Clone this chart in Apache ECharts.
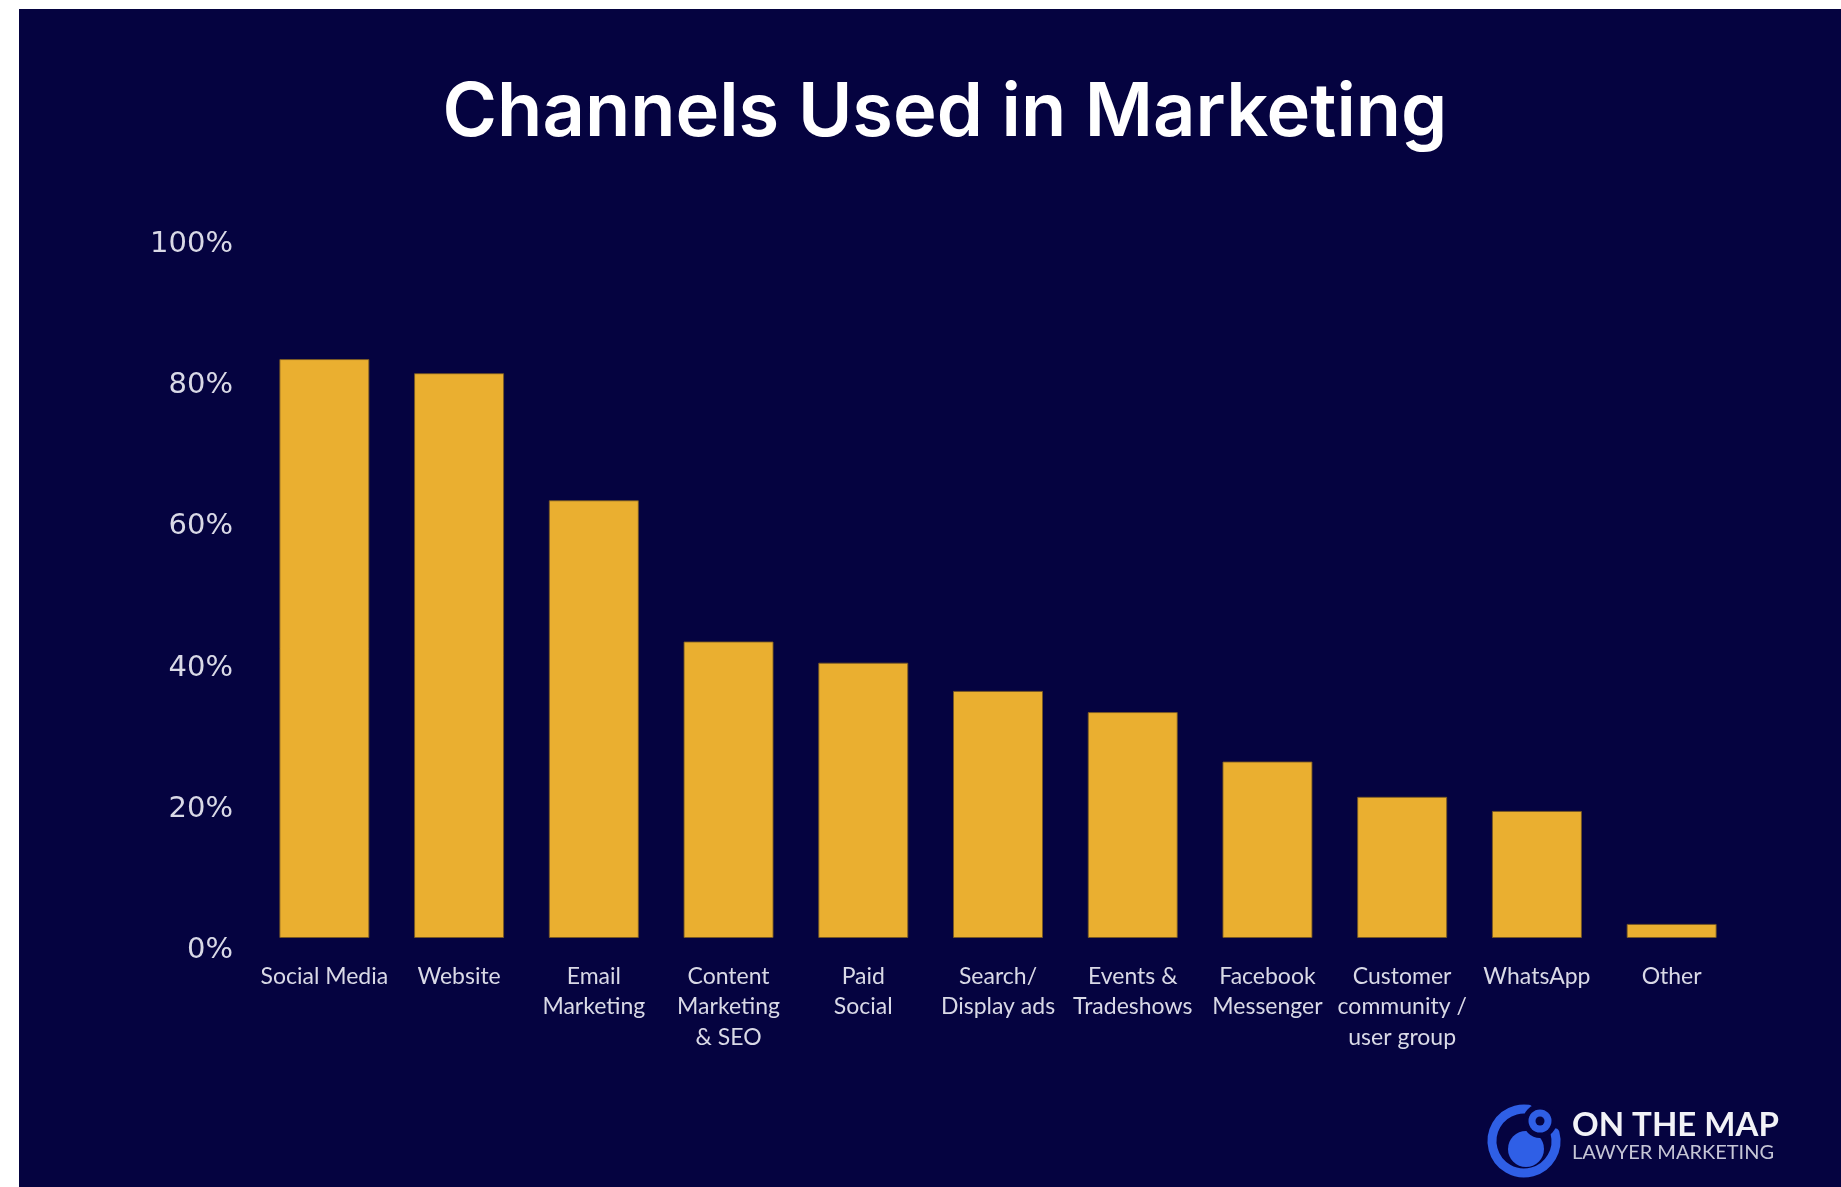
<!DOCTYPE html>
<html>
<head>
<meta charset="utf-8">
<title>Channels Used in Marketing</title>
<script src="https://cdn.jsdelivr.net/npm/echarts@6/dist/echarts.min.js"></script>
<style>
  html, body { margin: 0; padding: 0; background: #ffffff; }
  #chart { width: 1841px; height: 1187px; }
</style>
</head>
<body>
<div id="chart"></div>
<script>
// Marketing channels and share of respondents using each one (%)
const categories = [
  'Social Media', 'Website', 'Email\nMarketing', 'Content\nMarketing\n& SEO',
  'Paid\nSocial', 'Search/\nDisplay ads', 'Events &\nTradeshows', 'Facebook\nMessenger',
  'Customer\ncommunity /\nuser group', 'WhatsApp', 'Other'
];
const usage = [82, 80, 62, 42, 39, 35, 32, 25, 20, 18, 2];
const yMin = 0;
const yMax = 100;
const yStep = 20;

const BG = '#050340';
const BAR = '#EAAF30';
const BLUE = '#2F5FE6';

const chart = echarts.init(document.getElementById('chart'));

chart.setOption({
  backgroundColor: BG,
  animation: false,
  grid: { left: 257, right: 102, top: 232, bottom: 249, containLabel: false },
  xAxis: {
    type: 'category',
    data: categories,
    axisLine: { show: false },
    axisTick: { show: false },
    axisLabel: {
      interval: 0,
      margin: 23,
      color: '#d9d9e6',
      fontFamily: 'Lato',
      fontSize: 23,
      lineHeight: 30.5
    }
  },
  yAxis: {
    type: 'value',
    min: yMin,
    max: yMax,
    interval: yStep,
    splitLine: { show: false },
    axisLine: { show: false },
    axisTick: { show: false },
    axisLabel: {
      margin: 24,
      color: '#d9d9e6',
      fontFamily: 'DejaVu Sans',
      fontSize: 29,
      verticalAlign: 'top',
      lineHeight: 25,
      formatter: '{value}%'
    }
  },
  series: [{
    type: 'bar',
    data: usage,
    barWidth: 90,
    itemStyle: { color: BAR, borderColor: 'rgba(120,88,34,0.85)', borderWidth: 1 }
  }],
  graphic: [
    // title
    {
      type: 'text', x: 945, y: 114, z: 10,
      style: {
        text: 'Channels Used in Marketing',
        font: '600 74px Inter', fill: '#ffffff',
        textAlign: 'center', textVerticalAlign: 'middle'
      }
    },
    // page margins
    { type: 'rect', shape: { x: 0, y: 0, width: 1841, height: 9 }, style: { fill: '#ffffff' }, z: 20 },
    { type: 'rect', shape: { x: 0, y: 0, width: 19, height: 1187 }, style: { fill: '#ffffff' }, z: 20 },
    // brand mark: open ring, crescent and pin
    {
      type: 'arc', z: 10,
      shape: { cx: 1524, cy: 1141, r: 32, startAngle: -15 * Math.PI / 180, endAngle: 278 * Math.PI / 180, clockwise: true },
      style: { stroke: BLUE, lineWidth: 9, lineCap: 'round', fill: null }
    },
    { type: 'circle', z: 10, shape: { cx: 1526, cy: 1149, r: 18 }, style: { fill: BLUE } },
    { type: 'circle', z: 11, shape: { cx: 1540, cy: 1121, r: 17 }, style: { fill: BG } },
    { type: 'circle', z: 12, shape: { cx: 1540, cy: 1121, r: 11.5 }, style: { fill: BLUE } },
    { type: 'circle', z: 13, shape: { cx: 1540, cy: 1121, r: 4.5 }, style: { fill: BG } },
    {
      type: 'text', x: 1572, y: 1125, z: 10,
      style: { text: 'ON THE MAP', font: 'bold 33px Lato', fill: '#f2f2f7', textAlign: 'left', textVerticalAlign: 'middle' }
    },
    {
      type: 'text', x: 1572, y: 1153, z: 10,
      style: { text: 'LAWYER MARKETING', font: '20px Lato', fill: '#c6c6d6', textAlign: 'left', textVerticalAlign: 'middle' }
    }
  ]
});
</script>
</body>
</html>
